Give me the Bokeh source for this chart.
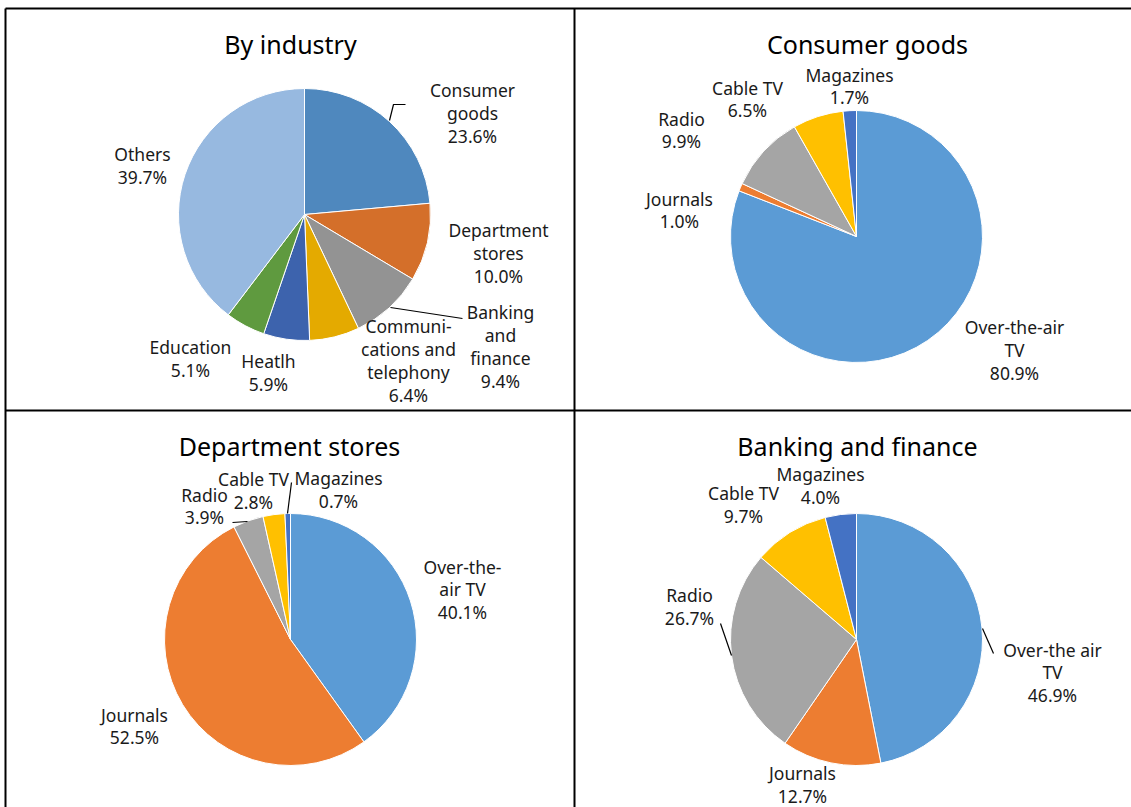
import math
from bokeh.plotting import figure
from bokeh.models import Range1d, ColumnDataSource
from bokeh.core.properties import value
from bokeh.embed import file_html
from bokeh.resources import INLINE

# ---------------- data ----------------
industry_labels = ["Consumer goods", "Department stores", "Banking and finance",
                   "Communications and telephony", "Heatlh", "Education", "Others"]
industry_values = [23.6, 10.0, 9.4, 6.4, 5.9, 5.1, 39.7]
industry_text = ["Consumer\ngoods\n23.6%", "Department\nstores\n10.0%", "Banking\nand\nfinance\n9.4%",
                 "Communi-\ncations and\ntelephony\n6.4%", "Heatlh\n5.9%", "Education\n5.1%", "Others\n39.7%"]

media_labels = ["Over-the-air TV", "Journals", "Radio", "Cable TV", "Magazines"]
consumer_values = [80.9, 1.0, 9.9, 6.5, 1.7]
consumer_text = ["Over-the-air\nTV\n80.9%", "Journals\n1.0%", "Radio\n9.9%", "Cable TV\n6.5%", "Magazines\n1.7%"]
dept_values = [40.1, 52.5, 3.9, 2.8, 0.7]
dept_text = ["Over-the-\nair TV\n40.1%", "Journals\n52.5%", "Radio\n3.9%", "Cable TV\n2.8%", "Magazines\n0.7%"]
bank_values = [46.9, 12.7, 26.7, 9.7, 4.0]
bank_text = ["Over-the air\nTV\n46.9%", "Journals\n12.7%", "Radio\n26.7%", "Cable TV\n9.7%", "Magazines\n4.0%"]

panel_titles = ["By industry", "Consumer goods", "Department stores", "Banking and finance"]

# ---------------- styles / layout ----------------
industry_colors = ["#4F88BE", "#D46F2A", "#939393", "#E4AA00", "#3D63AD", "#5F9A3F", "#97B9E0"]
media_colors = ["#5B9BD5", "#ED7D31", "#A5A5A5", "#FFC000", "#4472C4"]
FONT = "Noto Sans"

W, H = 1131, 807
OX, OY = 0, 0  # page offset (bokeh template has no body margin)


def X(px):
    return px - OX


def Y(py):
    return (H + OY) - py


p = figure(width=W, height=H, output_backend="svg", toolbar_location=None,
           x_range=Range1d(0, W), y_range=Range1d(0, H),
           x_axis_type=None, y_axis_type=None, min_border=0)
p.outline_line_color = None
p.grid.visible = False
p.background_fill_color = "white"


def pie(cx, cy, r, vals, colors):
    total = sum(vals)
    starts, ends = [], []
    cum = 0.0
    for v in vals:
        starts.append(math.pi / 2 - 2 * math.pi * cum / total)
        cum += v
        ends.append(math.pi / 2 - 2 * math.pi * cum / total)
    src = ColumnDataSource(dict(x=[X(cx)] * len(vals), y=[Y(cy)] * len(vals),
                                start=starts, end=ends, color=colors))
    p.wedge(x="x", y="y", radius=r, start_angle="start", end_angle="end",
            direction="clock", fill_color="color", line_color="white",
            line_width=1, source=src)


def labels(texts, pos):
    src = ColumnDataSource(dict(x=[X(a) for a, b in pos], y=[Y(b) for a, b in pos], t=texts))
    p.text(x="x", y="y", text="t", source=src, text_font=value(FONT),
           text_font_size="17.5px", text_align="center", text_baseline="middle",
           text_color="#1a1a1a", text_line_height=0.95)


def leader(pts):
    p.line([X(a) for a, b in pts], [Y(b) for a, b in pts], line_color="black", line_width=1.2)


R = 126
pie(304, 214, R, industry_values, industry_colors)
pie(856, 236, R, consumer_values, media_colors)
pie(290, 639, R, dept_values, media_colors)
pie(856, 639, R, bank_values, media_colors)

labels(industry_text, [(472, 112.5), (498, 252.5), (500, 346), (408, 360), (268, 372), (190, 358), (142, 165)])
labels(consumer_text, [(1014, 349.5), (679, 209.5), (681, 129.5), (747, 98.5), (849, 85.5)])
labels(dept_text, [(462, 589), (134, 725.5), (204, 505.5), (253, 490), (338, 489)])
labels(bank_text, [(1052, 672), (802, 784), (689, 606), (743, 504), (820, 485)])

# leader lines
leader([(389, 120), (393, 104), (405, 104)])
leader([(390, 307), (462, 318)])
leader([(287, 513), (291, 482)])
leader([(232, 522), (247, 521)])
leader([(720, 623), (731, 655)])
leader([(982, 628), (993, 653)])

# titles
tsrc = ColumnDataSource(dict(x=[X(290), X(867), X(289), X(857)],
                             y=[Y(43), Y(43), Y(445), Y(445)], t=panel_titles))
p.text(x="x", y="y", text="t", source=tsrc, text_font=value(FONT), text_font_size="25px",
       text_align="center", text_baseline="middle", text_color="black")

# panel borders
p.line([X(5), X(1131)], [Y(8), Y(8)], line_color="black", line_width=2)
p.line([X(5), X(5)], [Y(8), Y(807)], line_color="black", line_width=2)
p.line([X(574), X(574)], [Y(8), Y(807)], line_color="black", line_width=2)
p.line([X(5), X(1131)], [Y(410), Y(410)], line_color="black", line_width=2)

open("out.html", "w").write(file_html(p, INLINE))
